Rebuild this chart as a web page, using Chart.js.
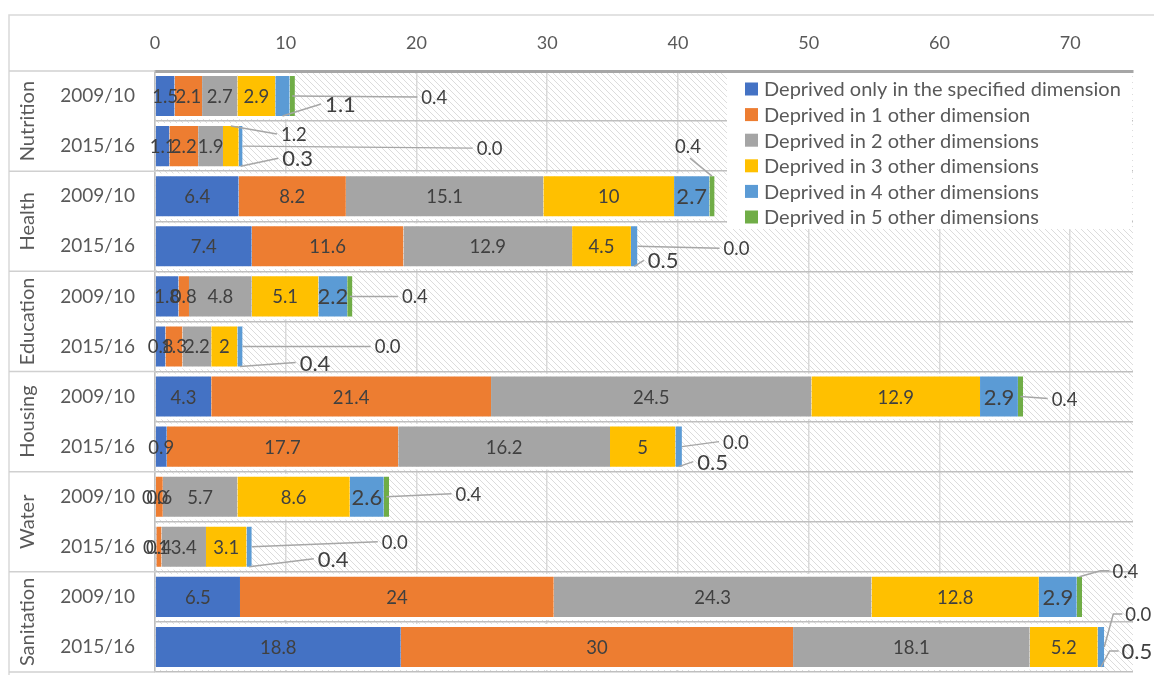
<!DOCTYPE html>
<html>
<head>
<meta charset="utf-8">
<script src="https://cdn.jsdelivr.net/npm/chart.js@4.4.0/dist/chart.umd.min.js"></script>
<style>
  html, body { margin: 0; padding: 0; background: #fff; }
</style>
</head>
<body>
<canvas id="chart" width="1154" height="675"></canvas>
<script>
const dimensions = ['Nutrition', 'Health', 'Education', 'Housing', 'Water', 'Sanitation'];
const periods = ['2009/10', '2015/16'];
const seriesNames = [
  'Deprived only in the specified dimension',
  'Deprived in 1 other dimension',
  'Deprived in 2 other dimensions',
  'Deprived in 3 other dimensions',
  'Deprived in 4 other dimensions',
  'Deprived in 5 other dimensions'
];
// one value per row: Nutrition 09/10, 15/16, Health 09/10, 15/16, ...
const onlyThis = [1.5, 1.1, 6.4, 7.4, 1.8, 0.8, 4.3, 0.9, 0.0, 0.1, 6.5, 18.8];
const oneOther = [2.1, 2.2, 8.2, 11.6, 0.8, 1.3, 21.4, 17.7, 0.6, 0.4, 24, 30];
const twoOther = [2.7, 1.9, 15.1, 12.9, 4.8, 2.2, 24.5, 16.2, 5.7, 3.4, 24.3, 18.1];
const threeOther = [2.9, 1.2, 10, 4.5, 5.1, 2, 12.9, 5, 8.6, 3.1, 12.8, 5.2];
const fourOther = [1.1, 0.3, 2.7, 0.5, 2.2, 0.4, 2.9, 0.5, 2.6, 0.4, 2.9, 0.5];
const fiveOther = [0.4, 0.0, 0.4, 0.0, 0.4, 0.0, 0.4, 0.0, 0.4, 0.0, 0.4, 0.0];
const xTicks = [0, 10, 20, 30, 40, 50, 60, 70];

const colors = ['#4472C4', '#ED7D31', '#A5A5A5', '#FFC000', '#5B9BD5', '#70AD47'];
const allSeries = [onlyThis, oneOther, twoOther, threeOther, fourOther, fiveOther];
const rowLabels = dimensions.flatMap(() => periods);

const FONT = 'Lato, "Open Sans", sans-serif';
const TEXT = '#595959';
const LABEL = '#404040';

// labels that sit outside the bar with a leader line (offsets from anchor)
const callouts = [
  { ds: 4, row: 0, at: 'bottom', dx: 58, dy: -12 },
  { ds: 5, row: 0, at: 'mid', dx: 142, dy: 1 },
  { ds: 3, row: 1, at: 'top', dx: 63, dy: 8 },
  { ds: 4, row: 1, at: 'bottom', dx: 57, dy: -8 },
  { ds: 5, row: 1, at: 'mid', dx: 247, dy: 2 },
  { ds: 5, row: 2, at: 'top', dx: -24, dy: -30 },
  { ds: 4, row: 3, at: 'bottom', dx: 29, dy: -6 },
  { ds: 5, row: 3, at: 'mid', dx: 99, dy: 2 },
  { ds: 5, row: 4, at: 'mid', dx: 65, dy: 0 },
  { ds: 4, row: 5, at: 'bottom', dx: 75, dy: -4 },
  { ds: 5, row: 5, at: 'mid', dx: 145, dy: 0 },
  { ds: 5, row: 6, at: 'mid', dx: 44, dy: 2 },
  { ds: 4, row: 7, at: 'bottom', dx: 34, dy: -5 },
  { ds: 5, row: 7, at: 'mid', dx: 54, dy: -5 },
  { ds: 5, row: 8, at: 'mid', dx: 82, dy: -3 },
  { ds: 4, row: 9, at: 'bottom', dx: 84, dy: -8 },
  { ds: 5, row: 9, at: 'mid', dx: 143, dy: -5 },
  { ds: 5, row: 10, at: 'top', dx: 46, dy: -6, elbow: true },
  { ds: 4, row: 11, at: 'bottom', dx: 36, dy: -16, elbow: true },
  { ds: 5, row: 11, at: 'mid', dx: 34, dy: -33, elbow: true }
];

function fmt(v) {
  return v === 0 ? '0.0' : String(v);
}

function labelFont(ds) {
  return ds === 4 ? '22px ' + FONT : '18.5px ' + FONT;
}

function makeHatch(ctx) {
  const s = 6;
  const c = document.createElement('canvas');
  c.width = s; c.height = s;
  const g = c.getContext('2d');
  g.fillStyle = '#fff';
  g.fillRect(0, 0, s, s);
  g.strokeStyle = '#dcdcdc';
  g.lineWidth = 1;
  g.beginPath();
  g.moveTo(0, 0); g.lineTo(s, s);
  g.moveTo(-1, s - 1); g.lineTo(1, s + 1);
  g.moveTo(s - 1, -1); g.lineTo(s + 1, 1);
  g.stroke();
  return ctx.createPattern(c, 'repeat');
}

const decorPlugin = {
  id: 'decor',
  beforeDraw(chart) {
    const ctx = chart.ctx;
    const a = chart.chartArea;
    ctx.save();
    ctx.fillStyle = '#fff';
    ctx.fillRect(0, 0, chart.width, chart.height);
    ctx.fillStyle = makeHatch(ctx);
    ctx.fillRect(a.left, a.top, a.right - a.left, a.bottom - a.top);
    // outer frame
    ctx.strokeStyle = '#d9d9d9';
    ctx.lineWidth = 1.5;
    ctx.beginPath();
    ctx.moveTo(9, chart.height + 2);
    ctx.lineTo(9, 15);
    ctx.lineTo(chart.width + 2, 15);
    ctx.stroke();
    ctx.restore();
  },
  afterDatasetsDraw(chart) {
    const ctx = chart.ctx;
    const a = chart.chartArea;
    const y = chart.scales.y;
    ctx.save();

    // group separators across the label area, and group names
    ctx.strokeStyle = '#d0d0d0';
    ctx.lineWidth = 1.5;
    for (let g = 0; g <= dimensions.length; g++) {
      const py = y.getPixelForValue(g * 2 - 0.5);
      ctx.beginPath();
      ctx.moveTo(9, py);
      ctx.lineTo(a.left, py);
      ctx.stroke();
    }
    ctx.fillStyle = TEXT;
    ctx.font = '20px ' + FONT;
    ctx.textAlign = 'center';
    ctx.textBaseline = 'middle';
    dimensions.forEach((d, g) => {
      const py = y.getPixelForValue(g * 2 + 0.5);
      ctx.save();
      ctx.translate(28, py);
      ctx.rotate(-Math.PI / 2);
      ctx.fillText(d, 0, 0);
      ctx.restore();
    });

    // value labels
    const isCallout = (ds, row) => callouts.some(c => c.ds === ds && c.row === row);
    ctx.fillStyle = LABEL;
    allSeries.forEach((vals, ds) => {
      const meta = chart.getDatasetMeta(ds);
      vals.forEach((v, row) => {
        if (isCallout(ds, row)) return;
        const el = meta.data[row];
        ctx.font = labelFont(ds);
        ctx.fillText(fmt(v), (el.x + el.base) / 2, el.y + 1);
      });
    });

    // callouts with leader lines
    ctx.strokeStyle = '#a6a6a6';
    ctx.lineWidth = 1.5;
    callouts.forEach(c => {
      const el = chart.getDatasetMeta(c.ds).data[c.row];
      const half = el.height / 2 - 3;
      const ax = (el.x + el.base) / 2;
      const ay = c.at === 'top' ? el.y - half : c.at === 'bottom' ? el.y + half : el.y;
      const lx = ax + c.dx;
      const ly = ay + c.dy;
      const txt = fmt(allSeries[c.ds][c.row]);
      ctx.font = labelFont(c.ds);
      const w = ctx.measureText(txt).width;
      ctx.beginPath();
      ctx.moveTo(ax, ay);
      if (c.dx < 0) {
        ctx.lineTo(lx + 2, ly + 12);
      } else if (c.elbow) {
        ctx.lineTo(lx - w / 2 - 12, ly);
        ctx.lineTo(lx - w / 2 - 3, ly);
      } else {
        ctx.lineTo(lx - w / 2 - 4, ly);
      }
      ctx.stroke();
      ctx.fillText(txt, lx, ly + 1);
    });

    // legend
    const lx0 = 727, ly0 = 73, lw = 405, lh = 156;
    ctx.fillStyle = '#fff';
    ctx.fillRect(lx0, ly0, lw, lh);
    ctx.font = '20px ' + FONT;
    ctx.textAlign = 'left';
    seriesNames.forEach((name, i) => {
      const cy = 89 + i * 25.6;
      ctx.fillStyle = colors[i];
      ctx.fillRect(745, cy - 6.5, 13, 13);
      ctx.fillStyle = TEXT;
      ctx.fillText(name, 764, cy + 1);
    });
    ctx.restore();
  }
};

new Chart(document.getElementById('chart'), {
  type: 'bar',
  data: {
    labels: rowLabels,
    datasets: allSeries.map((vals, i) => ({
      label: seriesNames[i],
      data: vals,
      backgroundColor: colors[i],
      borderColor: '#ffffff',
      borderWidth: { top: 3, bottom: 3, left: 0, right: 0 },
      borderSkipped: false,
      barPercentage: 0.92,
      categoryPercentage: 1
    }))
  },
  options: {
    indexAxis: 'y',
    responsive: false,
    animation: false,
    devicePixelRatio: 1,
    layout: { padding: { top: 34, right: 21, bottom: 3, left: 0 } },
    plugins: {
      legend: { display: false },
      tooltip: { enabled: false }
    },
    scales: {
      x: {
        position: 'top',
        stacked: true,
        min: 0,
        max: 74.8,
        afterFit: s => { s.height = 37; },
        afterBuildTicks: s => { s.ticks = xTicks.map(v => ({ value: v })); },
        ticks: {
          padding: 17,
          color: TEXT,
          font: { family: 'Lato, sans-serif', size: 18 }
        },
        grid: { color: '#d9d9d9', lineWidth: 1.5, drawTicks: false },
        border: { color: '#a6a6a6', width: 3 }
      },
      y: {
        stacked: true,
        afterFit: s => {
          s.width = 155;
          s.paddingTop = 0;
          s.paddingBottom = 0;
        },
        ticks: {
          padding: 20,
          color: TEXT,
          font: { family: 'Lato, "Open Sans", sans-serif', size: 19 }
        },
        grid: { color: '#bfbfbf', lineWidth: 1.5, drawTicks: false, offset: true },
        border: { color: '#bfbfbf', width: 1.5 }
      }
    }
  },
  plugins: [decorPlugin]
});
</script>
</body>
</html>
